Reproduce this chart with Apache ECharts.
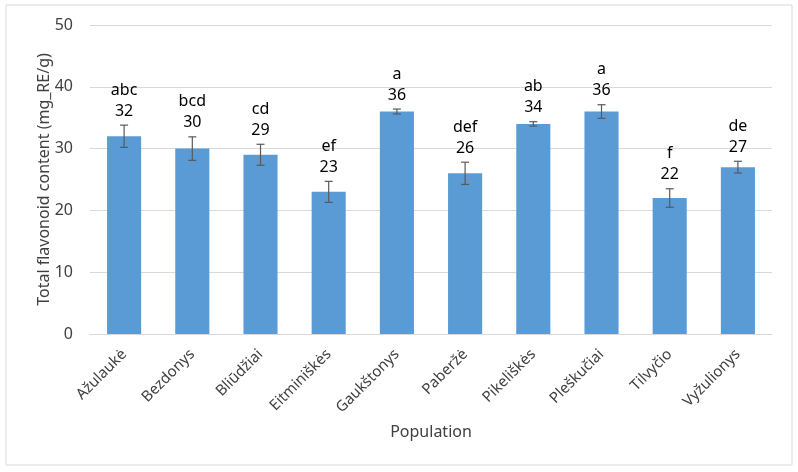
<!DOCTYPE html>
<html>
<head>
<meta charset="utf-8">
<script src="https://cdn.jsdelivr.net/npm/echarts@6/dist/echarts.min.js"></script>
<style>
    html, body { margin: 0; padding: 0; background: #fff; }
    #container { width: 798px; height: 472px; }
</style>
</head>
<body>
<div id="container"></div>
<script>
    // 数据
    let categories = ['Ažulaukė', 'Bezdonys', 'Bliūdžiai', 'Eitminiškės', 'Gaukštonys',
        'Paberžė', 'Pikeliškės', 'Pleškučiai', 'Tilvyčio', 'Vyžulionys'];
    let values = [32, 30, 29, 23, 36, 26, 34, 36, 22, 27];
    let errors = [1.8, 1.9, 1.7, 1.7, 0.4, 1.8, 0.35, 1.1, 1.5, 0.95];
    let letters = ['abc', 'bcd', 'cd', 'ef', 'a', 'def', 'ab', 'a', 'f', 'de'];
    let yTicks = [0, 10, 20, 30, 40, 50];

    let fontFamily = 'Noto Sans, sans-serif';
    let textColor = '#404040';

    // 误差线 + 标注
    function renderError(params, api) {
        let i = params.dataIndex;
        let x = api.value(0);
        let v = api.value(1);
        let e = api.value(2);
        let top = api.coord([x, v + e]);
        let bottom = api.coord([x, v - e]);
        let cap = 4;
        let style = { stroke: '#595959', lineWidth: 1.2 };
        return {
            type: 'group',
            children: [{
                type: 'line',
                shape: { x1: top[0], y1: top[1], x2: bottom[0], y2: bottom[1] },
                style: style
            }, {
                type: 'line',
                shape: { x1: top[0] - cap, y1: top[1], x2: top[0] + cap, y2: top[1] },
                style: style
            }, {
                type: 'line',
                shape: { x1: bottom[0] - cap, y1: bottom[1], x2: bottom[0] + cap, y2: bottom[1] },
                style: style
            }, {
                type: 'text',
                x: top[0],
                y: top[1] - 14,
                style: {
                    text: String(values[i]),
                    fill: '#000',
                    font: '16px ' + fontFamily,
                    align: 'center',
                    verticalAlign: 'middle'
                }
            }, {
                type: 'text',
                x: top[0],
                y: top[1] - 35,
                style: {
                    text: letters[i],
                    fill: '#000',
                    font: '16px ' + fontFamily,
                    align: 'center',
                    verticalAlign: 'middle'
                }
            }]
        };
    }

    let dom = document.getElementById('container');
    let myChart = echarts.init(dom);
    let option = {
        animation: false,
        textStyle: { fontFamily: fontFamily },
        graphic: [{
            type: 'rect',
            shape: { x: 6, y: 5, width: 786, height: 460 },
            style: { fill: 'none', stroke: '#d9d9d9', lineWidth: 1 }
        }],
        grid: { left: 90, right: 26, top: 25, bottom: 138 },
        xAxis: {
            type: 'category',
            data: categories,
            name: 'Population',
            nameLocation: 'middle',
            nameGap: 90,
            nameMoveOverlap: false,
            nameTextStyle: { fontSize: 16, color: textColor },
            axisLine: { lineStyle: { color: '#d9d9d9', width: 1 } },
            axisTick: { show: false },
            axisLabel: { rotate: 45, fontSize: 15, color: textColor, margin: 18, interval: 0 }
        },
        yAxis: {
            type: 'value',
            min: yTicks[0],
            max: yTicks[yTicks.length - 1],
            interval: 10,
            name: 'Total flavonoid content (mg_RE/g)',
            nameLocation: 'middle',
            nameGap: 38,
            nameMoveOverlap: false,
            nameTextStyle: { fontSize: 16, color: textColor },
            axisLine: { show: false },
            axisTick: { show: false },
            axisLabel: { fontSize: 16, color: textColor, margin: 17 },
            splitLine: { lineStyle: { color: '#d9d9d9', width: 1 } }
        },
        series: [{
            type: 'bar',
            data: values,
            barWidth: '50%',
            itemStyle: { color: '#5b9bd5' }
        }, {
            type: 'custom',
            renderItem: renderError,
            data: values.map(function (v, i) { return [i, v, errors[i]]; }),
            z: 10
        }]
    };
    myChart.setOption(option);
</script>
</body>
</html>
